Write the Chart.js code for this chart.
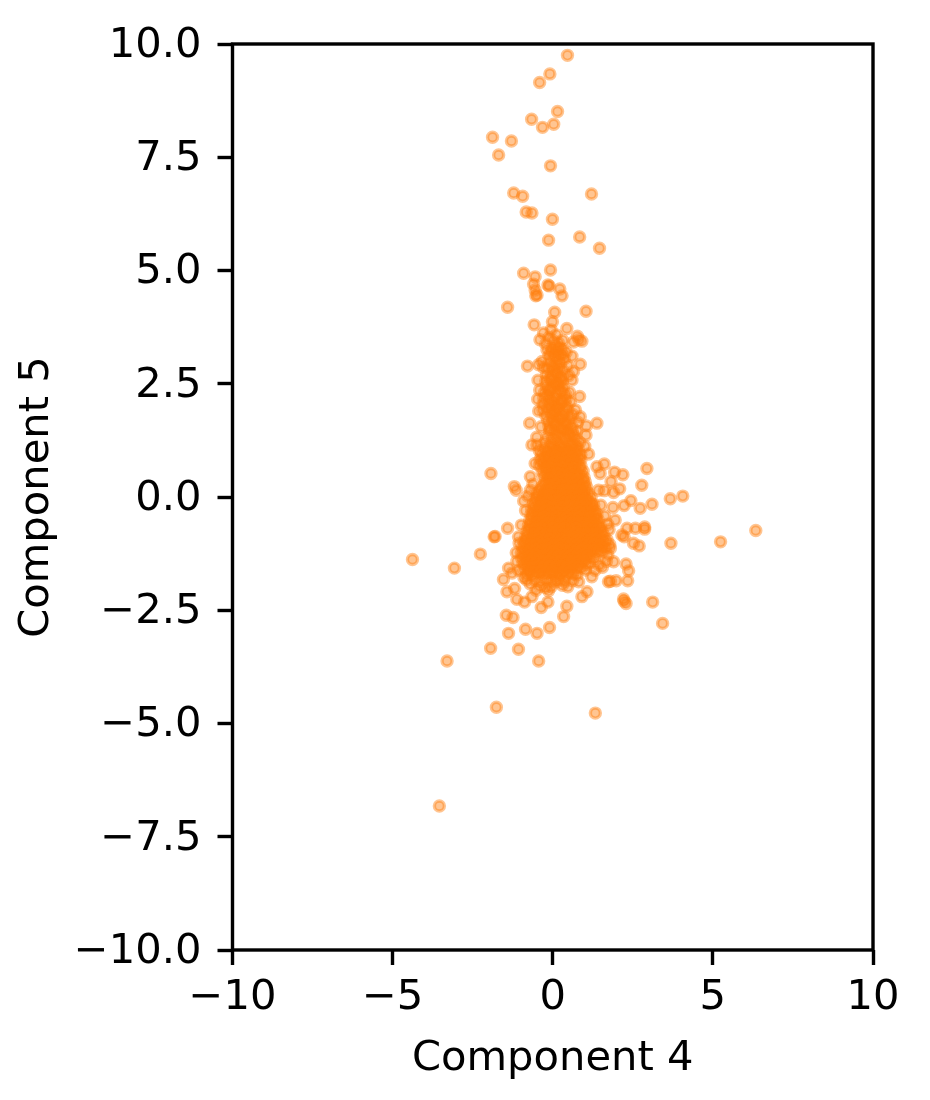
<!DOCTYPE html>
<html>
<head>
<meta charset="utf-8">
<title>Component 4 vs Component 5</title>
<script src="https://cdn.jsdelivr.net/npm/chart.js@4/dist/chart.umd.min.js"></script>
<style>
  html, body { margin: 0; padding: 0; background: #fff; }
  canvas { display: block; }
</style>
</head>
<body>
<canvas id="chart-scatter" width="930" height="1100"></canvas>
<script>
const xLabel = "Component 4";
const yLabel = "Component 5";
const xTicks = [-10, -5, 0, 5, 10];
const yTicks = [-10, -7.5, -5, -2.5, 0, 2.5, 5, 7.5, 10];

// points above the main cloud
const upperTail = [
  [0.46,9.75],[-0.09,9.34],[-0.41,9.15],[0.15,8.51],[-0.66,8.34],[0.03,8.23],[-0.32,8.16],[-1.88,7.94],
  [-1.29,7.86],[-1.69,7.55],[-0.07,7.31],[-1.22,6.71],[-0.94,6.64],[1.21,6.69],[-0.83,6.29],[-0.65,6.27],
  [-0.01,6.13],[-0.13,5.67],[0.84,5.74],[1.46,5.49],[-0.07,5.01],[-0.91,4.94],[-0.55,4.86],[-0.60,4.70],
  [-0.15,4.68],[-0.11,4.66],[0.22,4.59],[-0.49,4.46],[0.29,4.44],[-0.55,4.57],[-0.53,4.44],[-1.41,4.19],
  [1.04,4.10],[0.06,4.08],[-0.58,3.80],[0.44,3.72],[-0.01,3.87],[-0.05,3.69],[-0.40,3.47],[-0.29,3.62],
  [0.77,3.55],[0.65,3.42],[0.91,3.44],[0.82,3.47],[-0.79,2.89],[0.86,2.93],[0.60,3.11],[-0.33,2.99],
  [-0.29,2.86],[-0.46,2.58],[0.65,2.77],[0.60,2.58],[0.52,2.31],[0.84,2.22],[-0.47,2.16],[0.71,1.92],
  [0.86,1.77],[1.38,1.63],[1.05,1.57],[-0.72,1.63],[-0.36,1.55],[1.04,1.37],[-0.65,1.15],[-0.49,1.15],
  [-0.12,3.52],[0.02,3.45],[0.11,3.58],[-0.22,3.38],[0.18,3.4],[0.31,3.46],[-0.18,3.25],[0.42,3.2],
  [-0.44,2.92],[0.47,2.9],[0.5,2.68],[-0.41,2.36],[0.55,2.1],[0.62,1.82],[-0.44,1.9],[0.78,1.65],
  [-0.5,1.32],[-0.42,1.02],[1.0,1.12],[1.12,0.95]
];

// points around the sides and below the main cloud
const outerScatter = [
  [1.61,0.73],[2.94,0.63],[1.38,0.67],[1.93,0.55],[2.19,0.49],[-1.93,0.52],[-0.55,0.74],[-0.70,0.45],
  [2.78,0.26],[1.82,0.34],[1.48,0.52],[-1.20,0.23],[-1.14,0.15],[-0.70,0.15],[-0.91,-0.09],[2.09,0.18],
  [1.90,0.10],[1.61,0.14],[1.43,0.15],[4.06,0.02],[3.67,-0.04],[2.44,-0.08],[3.10,-0.16],[2.23,-0.19],
  [2.73,-0.25],[1.88,-0.23],[6.34,-0.74],[5.24,-0.99],[3.69,-1.02],[2.87,-0.66],[2.87,-0.71],[2.58,-0.69],
  [2.32,-0.69],[2.16,-0.84],[2.23,-0.88],[2.52,-1.02],[2.70,-1.08],[1.80,-1.13],[1.95,-0.51],[1.90,-1.43],
  [2.29,-1.48],[2.37,-1.63],[2.34,-1.85],[1.98,-1.85],[1.74,-1.87],[1.80,-1.86],[1.22,-1.76],[2.21,-2.25],
  [2.29,-2.35],[2.23,-2.30],[3.12,-2.32],[3.43,-2.79],[1.07,-2.09],[0.91,-2.20],[0.47,-1.98],[0.44,-2.41],
  [0.34,-2.64],[-0.10,-2.88],[-0.49,-3.01],[-0.85,-2.92],[-1.38,-3.01],[-1.45,-2.61],[-1.24,-2.66],[-0.36,-2.44],
  [-0.15,-2.32],[-0.88,-2.32],[-1.12,-2.26],[-0.65,-2.20],[-0.13,-2.07],[-1.43,-2.09],[-1.19,-2.02],[-1.54,-1.82],
  [-1.38,-1.57],[-1.27,-1.68],[-0.81,-1.83],[0.11,-1.87],[0.81,-1.87],[-4.38,-1.38],[-3.07,-1.57],[-2.26,-1.26],
  [-1.83,-0.88],[-1.80,-0.87],[-1.41,-0.69],[-1.07,-0.88],[-1.14,-1.23],[-1.94,-3.34],[-1.07,-3.36],[-0.44,-3.62],
  [-3.30,-3.62],[1.33,-4.77],[-1.76,-4.64],[-3.54,-6.82],
  [1.7,-0.95],[1.76,-0.72],[1.62,-0.42],[1.5,-0.18],[1.72,-1.28],[1.45,-1.5],[1.32,-1.62],[-1.05,-1.02],
  [-1.12,-1.42],[-1.06,-1.62],[-0.98,-0.62],[-0.85,-0.3],[-0.78,0.02],[-0.62,0.28],
  [1.72,-0.6],[1.78,-1.05],[1.68,-1.42],[1.55,-1.55],[-0.7,-1.92],[-0.05,-1.98],[0.3,-1.95],[0.62,-1.85],[-0.9,-1.78]
];

// narrow upper column of the cloud
const denseColumn = [
  [-0.02,3.28],[0.14,3.22],[0.3,3.27],[-0.12,3.12],[0.05,3.08],[0.22,3.13],[0.36,3.05],[-0.1,2.97],[0.08,2.93],[0.25,2.96],
  [-0.16,2.84],[0.02,2.8],[0.18,2.85],[0.33,2.79],[-0.2,2.7],[-0.03,2.68],[0.14,2.72],[0.3,2.66],[-0.22,2.56],[-0.05,2.58],
  [0.12,2.54],[0.3,2.55],[-0.2,2.44],[-0.02,2.42],[0.16,2.46],[0.33,2.41],[-0.26,2.3],[-0.08,2.33],[0.1,2.28],[0.28,2.31],[0.4,2.27],
  [-0.28,2.18],[-0.1,2.16],[0.08,2.2],[0.26,2.15],[0.42,2.17],[-0.3,2.05],[-0.12,2.07],[0.06,2.03],[0.24,2.06],[0.42,2.02],
  [-0.31,1.92],[-0.16,1.95],[0.02,1.91],[0.17,1.94],[0.35,1.9],[0.47,1.93],[-0.22,1.8],[-0.04,1.83],[0.14,1.78],[0.32,1.81],[0.5,1.79],
  [-0.16,1.69],[0.01,1.67],[0.19,1.71],[0.36,1.66],[0.54,1.69],[-0.12,1.56],[0.06,1.58],[0.24,1.54],[0.42,1.57],[0.6,1.55],
  [-0.1,1.44],[0.08,1.46],[0.26,1.42],[0.44,1.45],[0.62,1.43],[0.75,1.46],[-0.18,1.32],[0,1.3],[0.18,1.34],[0.36,1.31],[0.54,1.33],[0.72,1.29],
  [0.06,3.18],[0.17,3.02],[0.0,2.88],[0.12,2.76],[0.24,2.62],[0.05,2.5],[0.2,2.36],[-0.14,2.24],[0.02,2.12],[0.16,2.01],
  [0.31,2.11],[-0.06,1.99],[0.09,1.87],[0.26,1.75],[0.44,1.62],[-0.02,1.74],[0.1,1.63],[0.3,1.5],[0.5,1.38],[0.12,1.38],[-0.08,1.5],
  [0.66,1.36],[0.09,3.33],[0.2,3.3],[-0.06,3.2],[0.29,3.15],[-0.08,2.62],[0.22,2.5],[-0.12,2.38]
];

// wide lower body of the cloud
const denseBody = [
  [-0.25,1.2],[-0.06,1.18],[0.12,1.22],[0.3,1.17],[0.48,1.2],[0.66,1.18],[0.84,1.21],[-0.28,1.07],[-0.1,1.09],[0.08,1.05],[0.26,1.08],[0.44,1.04],[0.62,1.07],[0.8,1.05],
  [-0.35,0.95],[-0.16,0.93],[0.02,0.97],[0.2,0.94],[0.38,0.96],[0.56,0.92],[0.74,0.95],[0.88,0.93],[-0.4,0.82],[-0.2,0.84],[-0.02,0.8],[0.16,0.83],[0.34,0.81],[0.52,0.84],[0.7,0.8],[0.88,0.82],
  [-0.42,0.7],[-0.22,0.68],[-0.04,0.72],[0.14,0.69],[0.32,0.71],[0.5,0.67],[0.68,0.7],[0.88,0.68],[-0.33,0.57],[-0.15,0.59],[0.03,0.55],[0.21,0.58],[0.39,0.56],[0.57,0.59],[0.75,0.55],[0.95,0.57],
  [-0.3,0.45],[-0.12,0.43],[0.06,0.47],[0.24,0.44],[0.42,0.46],[0.6,0.42],[0.78,0.45],[0.98,0.43],[-0.24,0.33],[-0.06,0.35],[0.12,0.31],[0.3,0.34],[0.48,0.32],[0.66,0.35],[0.84,0.31],[1.02,0.33],
  [-0.36,0.21],[-0.18,0.19],[0,0.23],[0.18,0.2],[0.36,0.22],[0.54,0.18],[0.72,0.21],[0.9,0.19],[1.06,0.22],[-0.48,0.09],[-0.3,0.07],[-0.12,0.11],[0.06,0.08],[0.24,0.1],[0.42,0.06],[0.6,0.09],[0.78,0.07],[0.96,0.1],[1.12,0.08],
  [-0.55,-0.03],[-0.37,-0.05],[-0.19,-0.01],[-0.01,-0.04],[0.17,-0.02],[0.35,-0.06],[0.53,-0.03],[0.71,-0.05],[0.89,-0.02],[1.07,-0.04],[1.2,-0.01],
  [-0.6,-0.15],[-0.42,-0.17],[-0.24,-0.13],[-0.06,-0.16],[0.12,-0.14],[0.3,-0.18],[0.48,-0.15],[0.66,-0.17],[0.84,-0.14],[1.02,-0.16],[1.2,-0.13],[1.28,-0.17],
  [-0.66,-0.27],[-0.48,-0.29],[-0.3,-0.25],[-0.12,-0.28],[0.06,-0.26],[0.24,-0.3],[0.42,-0.27],[0.6,-0.29],[0.78,-0.26],[0.96,-0.28],[1.14,-0.25],[1.31,-0.29],
  [-0.68,-0.39],[-0.5,-0.41],[-0.32,-0.37],[-0.14,-0.4],[0.04,-0.38],[0.22,-0.42],[0.4,-0.39],[0.58,-0.41],[0.76,-0.38],[0.94,-0.4],[1.12,-0.37],[1.3,-0.41],[1.38,-0.38],
  [-0.72,-0.51],[-0.54,-0.53],[-0.36,-0.49],[-0.18,-0.52],[0,-0.5],[0.18,-0.54],[0.36,-0.51],[0.54,-0.53],[0.72,-0.5],[0.9,-0.52],[1.08,-0.49],[1.26,-0.53],[1.42,-0.5],
  [-0.76,-0.63],[-0.58,-0.65],[-0.4,-0.61],[-0.22,-0.64],[-0.04,-0.62],[0.14,-0.66],[0.32,-0.63],[0.5,-0.65],[0.68,-0.62],[0.86,-0.64],[1.04,-0.61],[1.22,-0.65],[1.4,-0.62],[1.5,-0.66],
  [-0.8,-0.75],[-0.62,-0.77],[-0.44,-0.73],[-0.26,-0.76],[-0.08,-0.74],[0.1,-0.78],[0.28,-0.75],[0.46,-0.77],[0.64,-0.74],[0.82,-0.76],[1,-0.73],[1.18,-0.77],[1.36,-0.74],[1.54,-0.76],
  [-0.84,-0.87],[-0.66,-0.89],[-0.48,-0.85],[-0.3,-0.88],[-0.12,-0.86],[0.06,-0.9],[0.24,-0.87],[0.42,-0.89],[0.6,-0.86],[0.78,-0.88],[0.96,-0.85],[1.14,-0.89],[1.32,-0.86],[1.5,-0.88],[1.6,-0.85],
  [-0.9,-0.99],[-0.72,-1.01],[-0.54,-0.97],[-0.36,-1],[-0.18,-0.98],[0,-1.02],[0.18,-0.99],[0.36,-1.01],[0.54,-0.98],[0.72,-1],[0.9,-0.97],[1.08,-1.01],[1.26,-0.98],[1.44,-1],[1.62,-0.97],
  [-0.95,-1.11],[-0.77,-1.13],[-0.59,-1.09],[-0.41,-1.12],[-0.23,-1.1],[-0.05,-1.14],[0.13,-1.11],[0.31,-1.13],[0.49,-1.1],[0.67,-1.12],[0.85,-1.09],[1.03,-1.13],[1.21,-1.1],[1.39,-1.12],[1.57,-1.09],[1.66,-1.13],
  [-0.98,-1.23],[-0.8,-1.25],[-0.62,-1.21],[-0.44,-1.24],[-0.26,-1.22],[-0.08,-1.26],[0.1,-1.23],[0.28,-1.25],[0.46,-1.22],[0.64,-1.24],[0.82,-1.21],[1,-1.25],[1.18,-1.22],[1.36,-1.24],[1.54,-1.21],
  [-0.97,-1.35],[-0.79,-1.37],[-0.61,-1.33],[-0.43,-1.36],[-0.25,-1.34],[-0.07,-1.38],[0.11,-1.35],[0.29,-1.37],[0.47,-1.34],[0.65,-1.36],[0.83,-1.33],[1.01,-1.37],[1.19,-1.34],[1.3,-1.36],
  [-0.93,-1.47],[-0.75,-1.49],[-0.57,-1.45],[-0.39,-1.48],[-0.21,-1.46],[-0.03,-1.5],[0.15,-1.47],[0.33,-1.49],[0.51,-1.46],[0.69,-1.48],[0.87,-1.45],[1.05,-1.49],[1.15,-1.46],
  [-0.9,-1.59],[-0.72,-1.61],[-0.54,-1.57],[-0.36,-1.6],[-0.18,-1.58],[0,-1.62],[0.18,-1.59],[0.36,-1.61],[0.54,-1.58],[0.72,-1.6],[0.9,-1.57],[1.02,-1.61],
  [-0.82,-1.71],[-0.64,-1.73],[-0.46,-1.69],[-0.28,-1.72],[-0.1,-1.7],[0.08,-1.74],[0.26,-1.71],[0.44,-1.73],[0.62,-1.7],[0.75,-1.72],
  [-0.55,-1.84],[-0.37,-1.86],[-0.19,-1.82],[-0.01,-1.85],[0.2,-1.83],[0.38,-1.86],[-0.4,-1.97],[-0.22,-2],[-0.52,-2.06]
];

// extra overlap in the middle, where the marks pile up to solid colour
const denseCore = [
  [0.03,1.12],[0.21,1.13],[0.39,1.11],[0.57,1.14],[0.75,1.12],[-0.19,1.0],[-0.01,1.01],[0.17,0.99],[0.35,1.0],[0.53,0.98],[0.71,1.01],
  [-0.27,0.88],[-0.09,0.87],[0.09,0.89],[0.27,0.87],[0.45,0.89],[0.63,0.88],[0.81,0.87],[-0.31,0.76],[-0.13,0.75],[0.05,0.77],[0.23,0.75],[0.41,0.76],[0.59,0.74],[0.77,0.76],
  [-0.24,0.63],[-0.06,0.64],[0.12,0.62],[0.3,0.64],[0.48,0.62],[0.66,0.63],[0.84,0.62],[-0.21,0.51],[-0.03,0.5],[0.15,0.52],[0.33,0.5],[0.51,0.51],[0.69,0.49],[0.87,0.5],
  [-0.15,0.39],[0.03,0.38],[0.21,0.4],[0.39,0.38],[0.57,0.39],[0.75,0.37],[0.93,0.38],[-0.27,0.27],[-0.09,0.26],[0.09,0.28],[0.27,0.26],[0.45,0.27],[0.63,0.25],[0.81,0.27],[0.97,0.26],
  [-0.39,0.15],[-0.21,0.14],[-0.03,0.16],[0.15,0.14],[0.33,0.15],[0.51,0.13],[0.69,0.15],[0.87,0.14],[1.03,0.15],[-0.46,0.03],[-0.28,0.02],[-0.1,0.04],[0.08,0.02],[0.26,0.03],[0.44,0.01],[0.62,0.03],[0.8,0.02],[0.98,0.03],
  [-0.51,-0.09],[-0.33,-0.1],[-0.15,-0.08],[0.03,-0.1],[0.21,-0.09],[0.39,-0.11],[0.57,-0.09],[0.75,-0.1],[0.93,-0.09],[1.11,-0.1],[-0.57,-0.21],[-0.39,-0.22],[-0.21,-0.2],[-0.03,-0.22],[0.15,-0.21],[0.33,-0.23],[0.51,-0.21],[0.69,-0.22],[0.87,-0.21],[1.05,-0.22],[1.22,-0.21],
  [-0.59,-0.33],[-0.41,-0.34],[-0.23,-0.32],[-0.05,-0.34],[0.13,-0.33],[0.31,-0.35],[0.49,-0.33],[0.67,-0.34],[0.85,-0.33],[1.03,-0.34],[1.21,-0.33],[-0.63,-0.45],[-0.45,-0.46],[-0.27,-0.44],[-0.09,-0.46],[0.09,-0.45],[0.27,-0.47],[0.45,-0.45],[0.63,-0.46],[0.81,-0.45],[0.99,-0.46],[1.17,-0.45],[1.34,-0.46],
  [-0.67,-0.57],[-0.49,-0.58],[-0.31,-0.56],[-0.13,-0.58],[0.05,-0.57],[0.23,-0.59],[0.41,-0.57],[0.59,-0.58],[0.77,-0.57],[0.95,-0.58],[1.13,-0.57],[1.31,-0.58],[-0.71,-0.69],[-0.53,-0.7],[-0.35,-0.68],[-0.17,-0.7],[0.01,-0.69],[0.19,-0.71],[0.37,-0.69],[0.55,-0.7],[0.73,-0.69],[0.91,-0.7],[1.09,-0.69],[1.27,-0.7],[1.45,-0.69],
  [-0.75,-0.81],[-0.57,-0.82],[-0.39,-0.8],[-0.21,-0.82],[-0.03,-0.81],[0.15,-0.83],[0.33,-0.81],[0.51,-0.82],[0.69,-0.81],[0.87,-0.82],[1.05,-0.81],[1.23,-0.82],[1.41,-0.81],[-0.81,-0.93],[-0.63,-0.94],[-0.45,-0.92],[-0.27,-0.94],[-0.09,-0.93],[0.09,-0.95],[0.27,-0.93],[0.45,-0.94],[0.63,-0.93],[0.81,-0.94],[0.99,-0.93],[1.17,-0.94],[1.35,-0.93],[1.53,-0.94],
  [-0.86,-1.05],[-0.68,-1.06],[-0.5,-1.04],[-0.32,-1.06],[-0.14,-1.05],[0.04,-1.07],[0.22,-1.05],[0.4,-1.06],[0.58,-1.05],[0.76,-1.06],[0.94,-1.05],[1.12,-1.06],[1.3,-1.05],[1.48,-1.06],[-0.89,-1.17],[-0.71,-1.18],[-0.53,-1.16],[-0.35,-1.18],[-0.17,-1.17],[0.01,-1.19],[0.19,-1.17],[0.37,-1.18],[0.55,-1.17],[0.73,-1.18],[0.91,-1.17],[1.09,-1.18],[1.27,-1.17],[1.45,-1.18],
  [-0.88,-1.29],[-0.7,-1.3],[-0.52,-1.28],[-0.34,-1.3],[-0.16,-1.29],[0.02,-1.31],[0.2,-1.29],[0.38,-1.3],[0.56,-1.29],[0.74,-1.3],[0.92,-1.29],[1.1,-1.3],[-0.84,-1.41],[-0.66,-1.42],[-0.48,-1.4],[-0.3,-1.42],[-0.12,-1.41],[0.06,-1.43],[0.24,-1.41],[0.42,-1.42],[0.6,-1.41],[0.78,-1.42],[0.96,-1.41],
  [-0.81,-1.53],[-0.63,-1.54],[-0.45,-1.52],[-0.27,-1.54],[-0.09,-1.53],[0.09,-1.55],[0.27,-1.53],[0.45,-1.54],[0.63,-1.53],[0.81,-1.54],[-0.73,-1.65],[-0.55,-1.66],[-0.37,-1.64],[-0.19,-1.66],[-0.01,-1.65],[0.17,-1.67],[0.35,-1.65],[0.53,-1.66]
];

const allPoints = [...denseBody, ...denseCore, ...denseColumn, ...outerScatter, ...upperTail];

function minusSign(text) {
    return text.replace("-", "\u2212");
}

// matplotlib style closed box around the plot
const boxPlugin = {
    id: "box",
    afterDatasetsDraw(chart) {
        const { ctx, chartArea: a } = chart;
        ctx.save();
        ctx.strokeStyle = "#000";
        ctx.lineWidth = 3.4;
        ctx.strokeRect(a.left, a.top, a.right - a.left, a.bottom - a.top);
        ctx.restore();
    }
};

const font = { family: "'DejaVu Sans'", size: 41.67 };

new Chart(document.getElementById("chart-scatter"), {
    type: "scatter",
    data: {
        datasets: [{
            data: allPoints.map(p => ({ x: p[0], y: p[1] })),
            backgroundColor: "rgba(255,127,14,0.45)",
            borderColor: "rgba(255,127,14,0.45)",
            borderWidth: 3.4,
            pointRadius: 5,
            clip: false
        }]
    },
    options: {
        responsive: false,
        animation: false,
        devicePixelRatio: 1,
        layout: { padding: { top: 44, right: 57, left: 0, bottom: 0 } },
        plugins: { legend: { display: false }, tooltip: { enabled: false } },
        scales: {
            x: {
                type: "linear",
                min: -10,
                max: 10,
                afterBuildTicks(scale) { scale.ticks = xTicks.map(v => ({ value: v })); },
                afterFit(scale) { scale.height = 150; },
                grid: { drawOnChartArea: false, tickLength: 15, tickWidth: 3.4, tickColor: "#000" },
                border: { display: false },
                ticks: {
                    color: "#000", font, padding: 8, maxRotation: 0, autoSkip: false,
                    callback: v => minusSign(String(v))
                },
                title: { display: true, text: xLabel, color: "#000", font, padding: { top: 12, bottom: 16 } }
            },
            y: {
                type: "linear",
                min: -10,
                max: 10,
                afterBuildTicks(scale) { scale.ticks = yTicks.map(v => ({ value: v })); },
                afterFit(scale) { scale.width = 232.5; },
                grid: { drawOnChartArea: false, tickLength: 15, tickWidth: 3.4, tickColor: "#000" },
                border: { display: false },
                ticks: {
                    color: "#000", font, padding: 16, labelOffset: 2, autoSkip: false,
                    callback: v => minusSign(v.toFixed(1))
                },
                title: { display: true, text: yLabel, color: "#000", font, padding: { top: 12, bottom: 0 } }
            }
        }
    },
    plugins: [boxPlugin]
});
</script>
</body>
</html>
